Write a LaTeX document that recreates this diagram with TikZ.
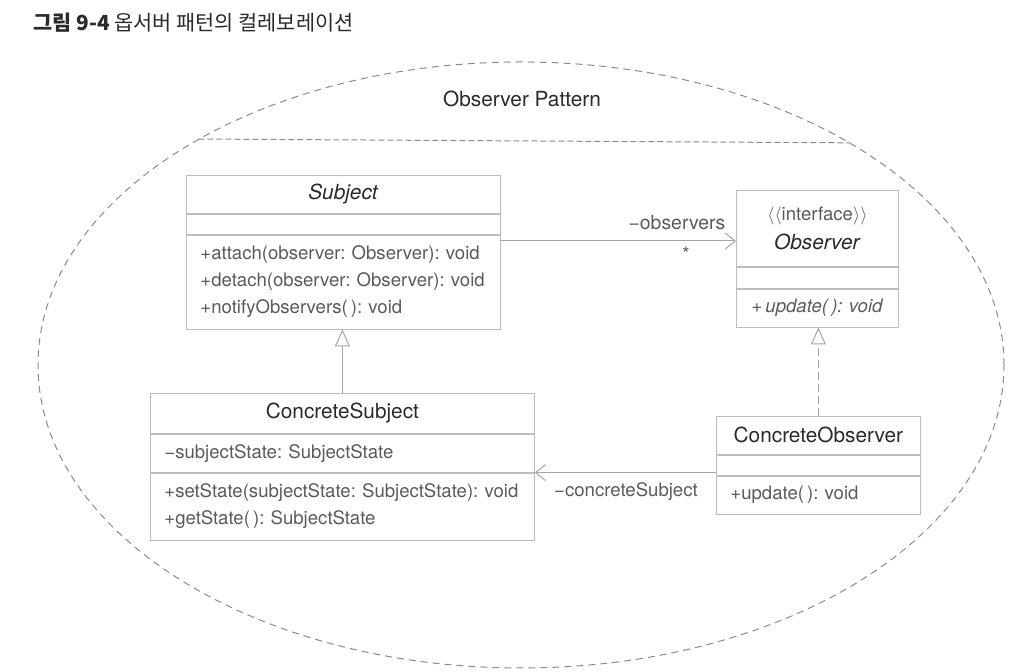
\documentclass[tikz,border=0pt]{standalone}
\usepackage{fontspec}
\setmainfont{TeX Gyre Heros}
\newfontfamily\krfont{Noto Sans CJK KR}
\usetikzlibrary{positioning,shapes.geometric,arrows.meta}
\definecolor{linegray}{HTML}{BDBDBD}
\definecolor{arrowgray}{HTML}{A5A5A5}
\definecolor{dashgray}{HTML}{8A8A8A}
\definecolor{textdark}{HTML}{2A2A2A}
\definecolor{textgray}{HTML}{5A5A5A}
\frenchspacing

\begin{document}
\begin{tikzpicture}[x=0.5pt, y=-0.5pt,
  font=\fontsize{9.3}{13.5}\selectfont,
  namebox/.style={draw=linegray, line width=0.4pt, text=textdark, anchor=north west, inner sep=0pt, align=center,
    font=\fontsize{10.4}{14.5}\selectfont},
  partbox/.style={draw=linegray, line width=0.4pt, text=textgray, inner xsep=7pt, inner ysep=0pt, align=left},
  assoc/.style={draw=arrowgray, line width=0.5pt, -{Straight Barb[length=5pt, width=8pt]}},
  gen/.style={draw=arrowgray, line width=0.5pt, -{Triangle[open, length=8.5pt, width=7.5pt, fill=white]}}]
  \useasboundingbox (0,0) rectangle (1018,672);

  % title
  \node[anchor=west, inner sep=0pt, text=textdark] (title) at (33,23)
    {\krfont\fontsize{10.4}{12}\selectfont\bfseries 그림 9-4 \mdseries 옵서버 패턴의 컬레보레이션};

  % collaboration
  \node[draw=dashgray, line width=0.5pt, dash pattern=on 3.5pt off 2.5pt, ellipse,
    minimum width=483pt, minimum height=303pt, inner sep=0pt] (pattern) at (521,365) {};
  \draw[dashgray, line width=0.5pt, dash pattern=on 3pt off 1.5pt] (pattern.145.2) -- (pattern.34.8);
  \node[text=textdark, font=\fontsize{10.4}{12}\selectfont] (patname) at (522,99) {Observer Pattern};

  % Subject
  \node[namebox, minimum width=157pt, minimum height=19pt] (subj) at (186,175) {\textit{Subject}};
  \node[partbox, text width=143pt, minimum height=10pt, below=0pt of subj] (subjattr) {};
  \node[partbox, text width=143pt, minimum height=47pt, below=0pt of subjattr] (subjops)
    {+attach(observer: Observer): void\\+detach(observer: Observer): void\\+notifyObservers(\,): void};

  % Observer
  \node[namebox, minimum width=81pt, minimum height=38pt] (obs) at (736,190)
    {{\color{textgray}\fontsize{9.3}{13.5}\selectfont$\langle\langle$interface$\rangle\rangle$}\\\textit{Observer}};
  \node[partbox, text width=67pt, minimum height=10.5pt, below=0pt of obs] (obsattr) {};
  \node[partbox, inner xsep=2pt, text width=77pt, align=center, minimum height=19pt, below=0pt of obsattr] (obsops)
    {\textit{+\,update(\,): void}};

  % ConcreteSubject
  \node[namebox, minimum width=192pt, minimum height=20pt] (cs) at (150,393) {ConcreteSubject};
  \node[partbox, text width=178pt, minimum height=19pt, below=0pt of cs] (csattr) {−subjectState: SubjectState};
  \node[partbox, text width=178pt, minimum height=33.5pt, below=0pt of csattr] (csops)
    {+setState(subjectState: SubjectState): void\\+getState(\,): SubjectState};

  % ConcreteObserver
  \node[namebox, minimum width=102pt, minimum height=19pt] (co) at (716,416) {ConcreteObserver};
  \node[partbox, text width=88pt, minimum height=10pt, below=0pt of co] (coattr) {};
  \node[partbox, text width=88pt, minimum height=19pt, below=0pt of coattr] (coops) {+update(\,): void};

  % relations
  \draw[assoc] (subjops.east |- 0,241) -- (obs.west |- 0,241);
  \node[text=textgray, font=\fontsize{9.7}{12}\selectfont] (obslabel) at (677,223) {−observers};
  \node[text=textgray] (mult) at (686,254) {*};
  \draw[gen] (cs.north) -- (cs.north |- subjops.south);
  \draw[gen, dash pattern=on 4pt off 2pt] (co.north) -- (co.north |- obsops.south);
  \draw[assoc] (coattr.west |- csops.north) -- (csops.north east);
  \node[text=textgray] (cslabel) at (626,492) {−concreteSubject};
\end{tikzpicture}
\end{document}
